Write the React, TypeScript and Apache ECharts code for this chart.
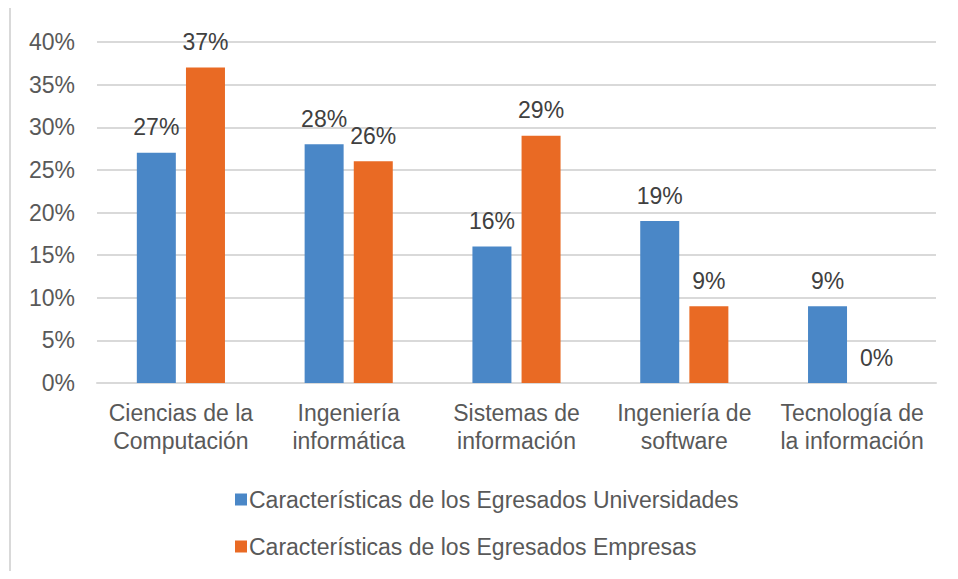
import React, { useEffect, useRef } from "react";
import * as echarts from "echarts";

const categories = [
  "Ciencias de la\nComputación",
  "Ingeniería\ninformática",
  "Sistemas de\ninformación",
  "Ingeniería de\nsoftware",
  "Tecnología de\nla información",
];
const seriesNames = [
  "Características de los Egresados Universidades",
  "Características de los Egresados Empresas",
];
const universidades = [27, 28, 16, 19, 9];
const empresas = [37, 26, 29, 9, 0];

const FONT = "'Liberation Sans', Arial, Helvetica, sans-serif";
const TEXT = "#595959";
const FS = 23;

export default function App() {
  const ref = useRef<HTMLDivElement>(null);
  useEffect(() => {
    if (!ref.current) return;
    const chart = echarts.init(ref.current, null, { renderer: "svg" });
    const label = {
      show: true,
      position: "top",
      distance: 14,
      formatter: (p: any) => `${p.value}%`,
      color: "#404040",
      fontSize: FS,
      fontFamily: FONT,
    };
    chart.setOption({
      animation: false,
      textStyle: { fontFamily: FONT },
      graphic: [
        {
          type: "rect",
          shape: { x: 10, y: 6, width: 1000, height: 700 },
          style: { fill: "none", stroke: "#d9d9d9", lineWidth: 2 },
          silent: true,
        },
      ],
      grid: { left: 97, right: 22, top: 42, bottom: 196, containLabel: false },
      legend: {
        orient: "vertical",
        left: 230,
        top: 483,
        itemWidth: 12,
        itemHeight: 12,
        itemGap: 24,
        icon: "rect",
        textStyle: { fontSize: FS, color: TEXT, fontFamily: FONT, padding: [0, 0, 0, -3] },
        data: seriesNames,
      },
      xAxis: {
        type: "category",
        data: categories,
        axisLine: { lineStyle: { color: "#d9d9d9", width: 2 } },
        axisTick: { show: false },
        axisLabel: {
          color: TEXT,
          fontSize: FS,
          fontFamily: FONT,
          lineHeight: 28,
          margin: 16,
          interval: 0,
        },
      },
      yAxis: {
        type: "value",
        min: 0,
        max: 40,
        interval: 5,
        axisLine: { show: false },
        axisTick: { show: false },
        splitLine: { lineStyle: { color: "#d9d9d9", width: 2 } },
        axisLabel: {
          formatter: "{value}%",
          color: TEXT,
          fontSize: FS,
          fontFamily: FONT,
          margin: 22,
        },
      },
      series: [
        {
          name: seriesNames[0],
          type: "bar",
          data: universidades,
          barWidth: 39,
          barGap: "26%",
          itemStyle: { color: "#4a87c7" },
          label,
        },
        {
          name: seriesNames[1],
          type: "bar",
          data: empresas,
          barWidth: 39,
          barGap: "26%",
          itemStyle: { color: "#e96a24" },
          label,
        },
      ],
    });
    return () => chart.dispose();
  }, []);
  return <div ref={ref} style={{ width: 958, height: 579, margin: -8 }} />;
}
